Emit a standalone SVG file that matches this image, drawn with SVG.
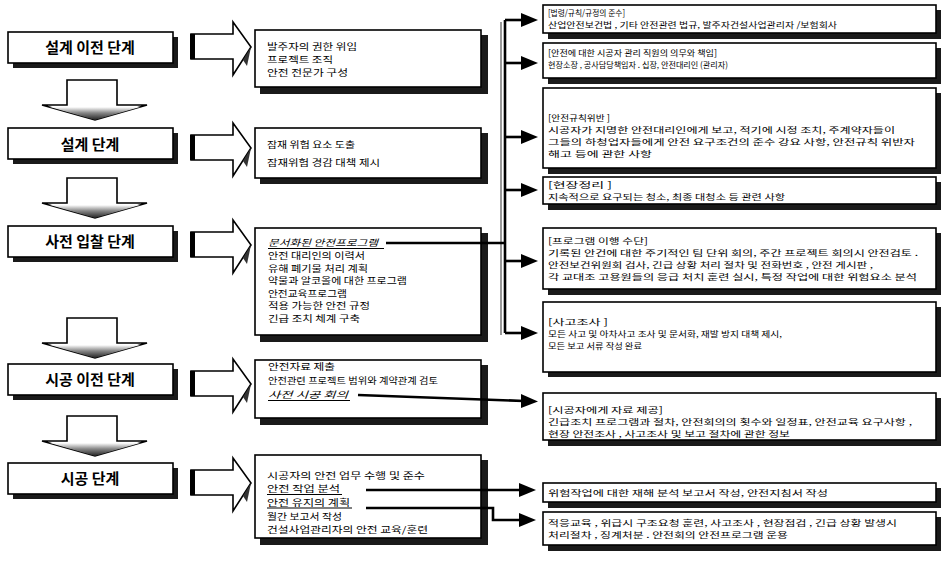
<svg xmlns="http://www.w3.org/2000/svg" width="941" height="565" viewBox="0 0 941 565">
<defs>
<style>
.box{fill:#fff;stroke:#000;stroke-width:1.6}
.sh{fill:#1a1a1a}
.stg{font-family:"Noto Sans CJK KR","Noto Sans",sans-serif;font-size:15px;font-weight:bold;fill:#000}
.t{font-family:"Noto Sans CJK KR","Noto Sans",sans-serif;font-size:9px;fill:#000}
.ti{font-family:"Noto Sans CJK KR","Noto Sans",sans-serif;font-size:9px;fill:#000;font-style:italic}
.r{font-family:"Noto Sans CJK KR","Noto Sans",sans-serif;font-size:8.5px;fill:#000}
.ul{stroke:#000;stroke-width:1.2}
.ln{stroke:#000;stroke-width:2.6;fill:none}
.lg{stroke:#999;stroke-width:2;fill:none}
.blk{fill:#fff;stroke:#000;stroke-width:1.6}
.hd{fill:#000}
</style>
<linearGradient id="dg" x1="0" y1="0" x2="0" y2="1">
<stop offset="0" stop-color="#fff"/>
<stop offset="0.45" stop-color="#888"/>
<stop offset="1" stop-color="#222"/>
</linearGradient>
</defs>

<!-- Stage nodes -->
<g id="stage1">
<rect class="sh" x="13" y="37" width="165" height="31"/>
<rect class="box" x="8" y="32" width="165" height="31"/>
<text class="stg" x="90" y="53" text-anchor="middle">설계 이전 단계</text>
</g>
<g id="stage2">
<rect class="sh" x="13" y="133" width="165" height="31"/>
<rect class="box" x="8" y="128" width="165" height="31"/>
<text class="stg" x="90" y="150" text-anchor="middle">설계 단계</text>
</g>
<g id="stage3">
<rect class="sh" x="13" y="231" width="165" height="31"/>
<rect class="box" x="8" y="226" width="165" height="31"/>
<text class="stg" x="90" y="247" text-anchor="middle">사전 입찰 단계</text>
</g>
<g id="stage4">
<rect class="sh" x="13" y="369" width="165" height="31"/>
<rect class="box" x="8" y="364" width="165" height="31"/>
<text class="stg" x="90" y="385" text-anchor="middle">시공 이전 단계</text>
</g>
<g id="stage5">
<rect class="sh" x="13" y="468" width="165" height="31"/>
<rect class="box" x="8" y="463" width="165" height="31"/>
<text class="stg" x="90" y="484" text-anchor="middle">시공 단계</text>
</g>

<!-- Down block arrows -->
<g id="down1">
<path class="blk" d="M67,80 H117 V105 H147 L95,120 L42,105 H67 Z"/>
<path d="M50,107 H140 L95,120 Z" fill="url(#dg)"/>
</g>
<g id="down2">
<path class="blk" d="M67,178 H117 V203 H147 L95,218 L42,203 H67 Z"/>
<path d="M50,205 H140 L95,218 Z" fill="url(#dg)"/>
</g>
<g id="down3">
<path class="blk" d="M67,318 H117 V343 H147 L95,358 L42,343 H67 Z"/>
<path d="M50,345 H140 L95,358 Z" fill="url(#dg)"/>
</g>
<g id="down4">
<path class="blk" d="M67,416 H117 V441 H147 L95,456 L42,441 H67 Z"/>
<path d="M50,443 H140 L95,456 Z" fill="url(#dg)"/>
</g>

<!-- Right block arrows -->
<g id="right1">
<path class="blk" d="M191,34 H233 V22 L251,47 L233,75 V59 H191 Z"/>
<rect x="190" y="34" width="5" height="25" fill="#000"/>
<path d="M243,60 L251,47 L247,66 Z" fill="#333"/>
</g>
<g id="right2">
<path class="blk" d="M191,135 H233 V123 L251,148 L233,176 V160 H191 Z"/>
<rect x="190" y="135" width="5" height="25" fill="#000"/>
<path d="M243,161 L251,148 L247,167 Z" fill="#333"/>
</g>
<g id="right3">
<path class="blk" d="M191,232 H233 V220 L251,245 L233,273 V257 H191 Z"/>
<rect x="190" y="232" width="5" height="25" fill="#000"/>
<path d="M243,258 L251,245 L247,264 Z" fill="#333"/>
</g>
<g id="right4">
<path class="blk" d="M191,371 H233 V359 L251,384 L233,412 V396 H191 Z"/>
<rect x="190" y="371" width="5" height="25" fill="#000"/>
<path d="M243,397 L251,384 L247,403 Z" fill="#333"/>
</g>
<g id="right5">
<path class="blk" d="M191,470 H233 V458 L251,483 L233,511 V495 H191 Z"/>
<rect x="190" y="470" width="5" height="25" fill="#000"/>
<path d="M243,496 L251,483 L247,502 Z" fill="#333"/>
</g>

<!-- Middle boxes -->
<g id="mid1">
<rect class="sh" x="260" y="35" width="228" height="59"/>
<rect class="box" x="255" y="30" width="226" height="57"/>
<text class="t" x="267" y="50" textLength="90" lengthAdjust="spacingAndGlyphs">발주자의 권한 위임</text>
<text class="t" x="267" y="63" textLength="66" lengthAdjust="spacingAndGlyphs">프로젝트 조직</text>
<text class="t" x="267" y="76" textLength="81" lengthAdjust="spacingAndGlyphs">안전 전문가 구성</text>
</g>
<g id="mid2">
<rect class="sh" x="260" y="133" width="228" height="51"/>
<rect class="box" x="255" y="128" width="226" height="50"/>
<text class="t" x="267" y="148" textLength="88" lengthAdjust="spacingAndGlyphs">잠재 위험 요소 도출</text>
<text class="t" x="267" y="166" textLength="113" lengthAdjust="spacingAndGlyphs">잠재위험 경감 대책 제시</text>
</g>
<g id="mid3">
<rect class="sh" x="260" y="233" width="228" height="109"/>
<rect class="box" x="255" y="228" width="226" height="107"/>
<text class="ti" x="268" y="246" textLength="110" lengthAdjust="spacingAndGlyphs">문서화된 안전프로그램</text>
<line class="ul" x1="268" y1="248.5" x2="384" y2="248.5"/>
<text class="t" x="268" y="259" textLength="97" lengthAdjust="spacingAndGlyphs">안전 대리인의 이력서</text>
<text class="t" x="268" y="271.5" textLength="100" lengthAdjust="spacingAndGlyphs">유해 폐기물 처리 계획</text>
<text class="t" x="268" y="284" textLength="139" lengthAdjust="spacingAndGlyphs">약물과 알코올에 대한 프로그램</text>
<text class="t" x="268" y="296.5" textLength="79" lengthAdjust="spacingAndGlyphs">안전교육프로그램</text>
<text class="t" x="268" y="309" textLength="102" lengthAdjust="spacingAndGlyphs">적용 가능한 안전 규정</text>
<text class="t" x="268" y="321.5" textLength="92" lengthAdjust="spacingAndGlyphs">긴급 조치 체계 구축</text>
</g>
<g id="mid4">
<rect class="sh" x="260" y="365" width="228" height="60"/>
<rect class="box" x="255" y="360" width="226" height="58"/>
<text class="t" x="268" y="370" textLength="67" lengthAdjust="spacingAndGlyphs">안전자료 제출</text>
<text class="t" x="268" y="384" textLength="170" lengthAdjust="spacingAndGlyphs">안전관련 프로젝트 범위와 계약관계 검토</text>
<text class="ti" x="268" y="398" textLength="80" lengthAdjust="spacingAndGlyphs">사전 시공 회의</text>
<line class="ul" x1="268" y1="400.5" x2="350" y2="400.5"/>
</g>
<g id="mid5">
<rect class="sh" x="260" y="460" width="228" height="85"/>
<rect class="box" x="255" y="455" width="226" height="83"/>
<text class="t" x="267" y="479" textLength="158" lengthAdjust="spacingAndGlyphs">시공자의 안전 업무 수행 및 준수</text>
<text class="t" x="267" y="492" textLength="73" lengthAdjust="spacingAndGlyphs">안전 작업 분석</text>
<line class="ul" x1="267" y1="494.5" x2="342" y2="494.5"/>
<text class="t" x="267" y="505.5" textLength="83" lengthAdjust="spacingAndGlyphs">안전 유지의 계획</text>
<line class="ul" x1="267" y1="508" x2="352" y2="508"/>
<text class="t" x="267" y="519.5" textLength="75" lengthAdjust="spacingAndGlyphs">월간 보고서 작성</text>
<text class="t" x="267" y="533" textLength="161" lengthAdjust="spacingAndGlyphs">건설사업관리자의 안전 교육/훈련</text>
</g>

<!-- Right boxes -->
<g id="r1">
<rect class="sh" x="548" y="10" width="393" height="29"/>
<rect class="box" x="543" y="5" width="393" height="28"/>
<text class="r" x="548" y="16" textLength="77" lengthAdjust="spacingAndGlyphs">[법령/규칙/규정의 준수]</text>
<text class="r" x="548" y="28" textLength="289" lengthAdjust="spacingAndGlyphs">산업안전보건법 , 기타 안전관련 법규, 발주자건설사업관리자 /보험회사</text>
</g>
<g id="r2">
<rect class="sh" x="548" y="48" width="393" height="36"/>
<rect class="box" x="543" y="43" width="393" height="35"/>
<text class="r" x="548" y="56" textLength="169" lengthAdjust="spacingAndGlyphs">[안전에 대한 시공자 관리 직원의 의무와 책임]</text>
<text class="r" x="548" y="68" textLength="180" lengthAdjust="spacingAndGlyphs">현장소장 , 공사담당책임자 . 십장, 안전대리인 (관리자)</text>
</g>
<g id="r3">
<rect class="sh" x="548" y="93" width="393" height="81"/>
<rect class="box" x="543" y="88" width="393" height="80"/>
<text class="r" x="548" y="121" textLength="62" lengthAdjust="spacingAndGlyphs">[안전규칙위반 ]</text>
<text class="r" x="548" y="133" textLength="347" lengthAdjust="spacingAndGlyphs">시공자가 지명한 안전대리인에게 보고, 적기에 시정 조치, 주계약자들이</text>
<text class="r" x="548" y="145" textLength="367" lengthAdjust="spacingAndGlyphs">그들의 하청업자들에게 안전 요구조건의 준수 강요 사항, 안전규칙 위반자</text>
<text class="r" x="548" y="157" textLength="104" lengthAdjust="spacingAndGlyphs">해고 등에 관한 사항</text>
</g>
<g id="r4">
<rect class="sh" x="548" y="182" width="393" height="28"/>
<rect class="box" x="543" y="177" width="393" height="27"/>
<text class="r" x="548" y="188" textLength="64" lengthAdjust="spacingAndGlyphs">[현장정리 ]</text>
<text class="r" x="548" y="200" textLength="237" lengthAdjust="spacingAndGlyphs">지속적으로 요구되는 청소, 최종 대청소 등 관련 사항</text>
</g>
<g id="r5">
<rect class="sh" x="548" y="233" width="393" height="62"/>
<rect class="box" x="543" y="228" width="393" height="61"/>
<text class="r" x="548" y="244" textLength="100" lengthAdjust="spacingAndGlyphs">[프로그램 이행 수단]</text>
<text class="r" x="548" y="256" textLength="370" lengthAdjust="spacingAndGlyphs">기록된 안건에 대한 주기적인 팀 단위 회의, 주간 프로젝트 회의시 안전검토 .</text>
<text class="r" x="548" y="268" textLength="325" lengthAdjust="spacingAndGlyphs">안전보건위원회 검사, 긴급 상황 처리 절차 및 전화번호 , 안전 게시판 ,</text>
<text class="r" x="548" y="280" textLength="369" lengthAdjust="spacingAndGlyphs">각 교대조 고용원들의 응급 처치 훈련 실시, 특정 작업에 대한 위험요소 분석</text>
</g>
<g id="r6">
<rect class="sh" x="548" y="307" width="393" height="70"/>
<rect class="box" x="543" y="302" width="393" height="70"/>
<text class="r" x="548" y="325" textLength="60" lengthAdjust="spacingAndGlyphs">[사고조사 ]</text>
<text class="r" x="548" y="337" textLength="234" lengthAdjust="spacingAndGlyphs">모든 사고 및 아차사고 조사 및 문서화, 재발 방지 대책 제시,</text>
<text class="r" x="548" y="349" textLength="94" lengthAdjust="spacingAndGlyphs">모든 보고 서류 작성 완료</text>
</g>
<g id="r7">
<rect class="sh" x="548" y="398" width="393" height="48"/>
<rect class="box" x="543" y="393" width="393" height="47"/>
<text class="r" x="548" y="413" textLength="115" lengthAdjust="spacingAndGlyphs">[시공자에게 자료 제공]</text>
<text class="r" x="548" y="425" textLength="364" lengthAdjust="spacingAndGlyphs">긴급조치 프로그램과 절차, 안전회의의 횟수와 일정표, 안전교육 요구사항 ,</text>
<text class="r" x="548" y="437" textLength="242" lengthAdjust="spacingAndGlyphs">현장 안전조사 , 사고조사 및 보고 절차에 관한 정보</text>
</g>
<g id="r8">
<rect class="sh" x="548" y="488" width="393" height="20"/>
<rect class="box" x="543" y="483" width="393" height="19"/>
<text class="r" x="548" y="495.5" textLength="280" lengthAdjust="spacingAndGlyphs">위험작업에 대한 재해 분석 보고서 작성, 안전지침서 작성</text>
</g>
<g id="r9">
<rect class="sh" x="548" y="517" width="393" height="34"/>
<rect class="box" x="543" y="512" width="393" height="33"/>
<text class="r" x="548" y="526" textLength="349" lengthAdjust="spacingAndGlyphs">적응교육 , 위급시 구조요청 훈련, 사고조사 , 현장점검 , 긴급 상황 발생시</text>
<text class="r" x="548" y="538" textLength="240" lengthAdjust="spacingAndGlyphs">처리절차 , 징계처분 . 안전회의 안전프로그램 운용</text>
</g>

<!-- Connectors -->
<g id="connectors">
<path class="lg" d="M501,22 V335"/>
<path class="ln" d="M386,243 H505"/>
<path class="ln" d="M505,20 V333"/>
<path class="ln" d="M505,20 H524"/>
<path class="hd" d="M521,13 L538,20 L521,27 Z"/>
<path class="ln" d="M505,63 H524"/>
<path class="hd" d="M521,56 L538,63 L521,70 Z"/>
<path class="ln" d="M505,137 H524"/>
<path class="hd" d="M521,130 L538,137 L521,144 Z"/>
<path class="ln" d="M505,190 H524"/>
<path class="hd" d="M521,183 L538,190 L521,197 Z"/>
<path class="ln" d="M505,261 H524"/>
<path class="hd" d="M521,254 L538,261 L521,268 Z"/>
<path class="ln" d="M505,333 H524"/>
<path class="hd" d="M521,326 L538,333 L521,340 Z"/>
<path class="ln" d="M358,395 L524,401"/>
<path class="hd" d="M521,394 L538,401.5 L521,408 Z"/>
<path class="ln" d="M366,490 H522"/>
<path class="hd" d="M519,483 L536,490 L519,497 Z"/>
<path class="ln" d="M366,508 H493 V520 H522"/>
<path class="hd" d="M519,513 L536,520 L519,527 Z"/>
</g>
</svg>
